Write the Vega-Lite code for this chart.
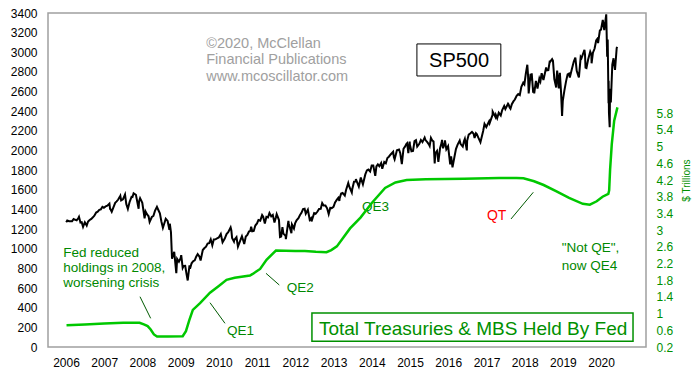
{
  "$schema": "https://vega.github.io/schema/vega-lite/v6.json",
  "width": 598,
  "height": 334,
  "autosize": "none",
  "padding": {"left": 48, "top": 13, "right": 53, "bottom": 33},
  "background": "white",
  "config": {
    "view": {"stroke": "#a0a0a0", "strokeWidth": 1.5},
    "font": "Liberation Sans",
    "axis": {"labelFont": "Liberation Sans", "labelFontSize": 12, "grid": false, "ticks": false, "tickSize": 0, "domain": false, "labelColor": "#000000", "titleFont": "Liberation Sans"}
  },
  "datasets": {
    "sp": [
      {"date":"2006-01-03","value":1269},{"date":"2006-01-13","value":1287},{"date":"2006-01-31","value":1280},
      {"date":"2006-02-15","value":1280},{"date":"2006-02-28","value":1281},{"date":"2006-03-15","value":1303},{"date":"2006-03-31","value":1295},
      {"date":"2006-04-13","value":1289},{"date":"2006-04-28","value":1311},{"date":"2006-05-05","value":1325},{"date":"2006-05-19","value":1267},{"date":"2006-05-31","value":1270},
      {"date":"2006-06-13","value":1223},{"date":"2006-06-30","value":1270},{"date":"2006-07-18","value":1236},{"date":"2006-07-31","value":1277},
      {"date":"2006-08-15","value":1293},{"date":"2006-08-31","value":1304},{"date":"2006-09-15","value":1320},{"date":"2006-09-29","value":1336},
      {"date":"2006-10-16","value":1369},{"date":"2006-10-31","value":1378},{"date":"2006-11-15","value":1396},{"date":"2006-11-30","value":1401},
      {"date":"2006-12-15","value":1427},{"date":"2006-12-29","value":1418},
      {"date":"2007-01-15","value":1431},{"date":"2007-01-31","value":1438},{"date":"2007-02-20","value":1459},{"date":"2007-02-27","value":1399},{"date":"2007-02-28","value":1407},
      {"date":"2007-03-14","value":1377},{"date":"2007-03-30","value":1421},{"date":"2007-04-16","value":1468},{"date":"2007-04-30","value":1482},
      {"date":"2007-05-15","value":1501},{"date":"2007-05-31","value":1531},{"date":"2007-06-04","value":1539},{"date":"2007-06-12","value":1493},{"date":"2007-06-29","value":1503},
      {"date":"2007-07-19","value":1553},{"date":"2007-07-31","value":1455},{"date":"2007-08-15","value":1406},{"date":"2007-08-31","value":1474},
      {"date":"2007-09-19","value":1529},{"date":"2007-09-28","value":1527},{"date":"2007-10-09","value":1565},{"date":"2007-10-31","value":1549},
      {"date":"2007-11-26","value":1407},{"date":"2007-11-30","value":1481},{"date":"2007-12-10","value":1515},{"date":"2007-12-31","value":1468},
      {"date":"2008-01-22","value":1310},{"date":"2008-01-31","value":1379},{"date":"2008-02-15","value":1349},{"date":"2008-02-29","value":1331},
      {"date":"2008-03-10","value":1273},{"date":"2008-03-31","value":1323},{"date":"2008-04-15","value":1334},{"date":"2008-04-30","value":1386},
      {"date":"2008-05-19","value":1426},{"date":"2008-05-30","value":1400},{"date":"2008-06-16","value":1360},{"date":"2008-06-30","value":1280},
      {"date":"2008-07-15","value":1214},{"date":"2008-07-31","value":1267},{"date":"2008-08-11","value":1305},{"date":"2008-08-29","value":1283},
      {"date":"2008-09-15","value":1193},{"date":"2008-09-19","value":1255},{"date":"2008-09-30","value":1166},{"date":"2008-10-10","value":899},{"date":"2008-10-31","value":969},
      {"date":"2008-11-20","value":752},{"date":"2008-11-28","value":896},{"date":"2008-12-15","value":868},{"date":"2008-12-31","value":903},
      {"date":"2009-01-06","value":935},{"date":"2009-01-20","value":805},{"date":"2009-01-30","value":826},{"date":"2009-02-13","value":827},{"date":"2009-02-27","value":735},
      {"date":"2009-03-09","value":677},{"date":"2009-03-26","value":832},{"date":"2009-03-31","value":798},{"date":"2009-04-15","value":852},{"date":"2009-04-30","value":873},
      {"date":"2009-05-15","value":883},{"date":"2009-05-29","value":919},{"date":"2009-06-12","value":946},{"date":"2009-06-30","value":919},
      {"date":"2009-07-10","value":880},{"date":"2009-07-31","value":987},{"date":"2009-08-14","value":1005},{"date":"2009-08-31","value":1021},
      {"date":"2009-09-15","value":1052},{"date":"2009-09-30","value":1057},{"date":"2009-10-15","value":1096},{"date":"2009-10-30","value":1036},
      {"date":"2009-11-13","value":1094},{"date":"2009-11-30","value":1096},{"date":"2009-12-15","value":1107},{"date":"2009-12-31","value":1115},
      {"date":"2010-01-19","value":1150},{"date":"2010-02-05","value":1066},{"date":"2010-02-26","value":1104},{"date":"2010-03-15","value":1150},{"date":"2010-03-31","value":1169},
      {"date":"2010-04-23","value":1217},{"date":"2010-04-30","value":1187},{"date":"2010-05-07","value":1111},{"date":"2010-05-25","value":1074},{"date":"2010-05-28","value":1089},
      {"date":"2010-06-18","value":1117},{"date":"2010-07-02","value":1022},{"date":"2010-07-30","value":1101},{"date":"2010-08-09","value":1127},{"date":"2010-08-27","value":1064},{"date":"2010-08-31","value":1049},
      {"date":"2010-09-15","value":1125},{"date":"2010-09-30","value":1141},{"date":"2010-10-15","value":1176},{"date":"2010-10-29","value":1183},
      {"date":"2010-11-05","value":1225},{"date":"2010-11-16","value":1178},{"date":"2010-11-30","value":1181},{"date":"2010-12-15","value":1236},{"date":"2010-12-31","value":1258},
      {"date":"2011-01-14","value":1293},{"date":"2011-01-31","value":1286},{"date":"2011-02-18","value":1343},{"date":"2011-02-28","value":1327},
      {"date":"2011-03-16","value":1257},{"date":"2011-03-31","value":1326},{"date":"2011-04-15","value":1320},{"date":"2011-04-29","value":1364},
      {"date":"2011-05-16","value":1329},{"date":"2011-05-31","value":1345},{"date":"2011-06-16","value":1268},{"date":"2011-06-30","value":1321},
      {"date":"2011-07-07","value":1353},{"date":"2011-07-29","value":1292},{"date":"2011-08-08","value":1119},{"date":"2011-08-19","value":1124},{"date":"2011-08-31","value":1219},
      {"date":"2011-09-09","value":1154},{"date":"2011-09-30","value":1131},{"date":"2011-10-03","value":1099},{"date":"2011-10-27","value":1285},{"date":"2011-10-31","value":1253},
      {"date":"2011-11-25","value":1159},{"date":"2011-11-30","value":1247},{"date":"2011-12-19","value":1206},{"date":"2011-12-30","value":1258},
      {"date":"2012-01-13","value":1289},{"date":"2012-01-31","value":1312},{"date":"2012-02-15","value":1344},{"date":"2012-02-29","value":1366},
      {"date":"2012-03-15","value":1403},{"date":"2012-03-30","value":1408},{"date":"2012-04-10","value":1358},{"date":"2012-04-30","value":1398},
      {"date":"2012-05-18","value":1295},{"date":"2012-05-31","value":1310},{"date":"2012-06-04","value":1278},{"date":"2012-06-29","value":1362},
      {"date":"2012-07-13","value":1356},{"date":"2012-07-31","value":1379},{"date":"2012-08-15","value":1405},{"date":"2012-08-31","value":1407},
      {"date":"2012-09-14","value":1465},{"date":"2012-09-28","value":1441},{"date":"2012-10-15","value":1441},{"date":"2012-10-31","value":1412},
      {"date":"2012-11-15","value":1353},{"date":"2012-11-30","value":1416},{"date":"2012-12-14","value":1414},{"date":"2012-12-31","value":1426},
      {"date":"2013-01-15","value":1472},{"date":"2013-01-31","value":1498},{"date":"2013-02-15","value":1519},{"date":"2013-02-25","value":1488},{"date":"2013-02-28","value":1515},
      {"date":"2013-03-14","value":1563},{"date":"2013-03-28","value":1569},{"date":"2013-04-18","value":1541},{"date":"2013-04-30","value":1598},
      {"date":"2013-05-21","value":1669},{"date":"2013-05-31","value":1631},{"date":"2013-06-24","value":1573},{"date":"2013-06-28","value":1606},
      {"date":"2013-07-15","value":1683},{"date":"2013-07-31","value":1686},{"date":"2013-08-02","value":1710},{"date":"2013-08-30","value":1633},
      {"date":"2013-09-18","value":1726},{"date":"2013-09-30","value":1682},{"date":"2013-10-08","value":1656},{"date":"2013-10-31","value":1757},
      {"date":"2013-11-15","value":1798},{"date":"2013-11-29","value":1806},{"date":"2013-12-16","value":1786},{"date":"2013-12-31","value":1848},
      {"date":"2014-01-15","value":1848},{"date":"2014-02-03","value":1742},{"date":"2014-02-14","value":1838},{"date":"2014-02-28","value":1859},
      {"date":"2014-03-14","value":1841},{"date":"2014-03-31","value":1872},{"date":"2014-04-11","value":1815},{"date":"2014-04-30","value":1884},
      {"date":"2014-05-15","value":1870},{"date":"2014-05-30","value":1924},{"date":"2014-06-13","value":1937},{"date":"2014-06-30","value":1960},
      {"date":"2014-07-24","value":1988},{"date":"2014-07-31","value":1931},{"date":"2014-08-07","value":1910},{"date":"2014-08-29","value":2003},
      {"date":"2014-09-18","value":2011},{"date":"2014-09-30","value":1972},{"date":"2014-10-15","value":1862},{"date":"2014-10-31","value":2018},
      {"date":"2014-11-14","value":2039},{"date":"2014-11-28","value":2068},{"date":"2014-12-05","value":2075},{"date":"2014-12-16","value":1973},{"date":"2014-12-29","value":2091},{"date":"2014-12-31","value":2059},
      {"date":"2015-01-15","value":1992},{"date":"2015-01-30","value":1995},{"date":"2015-02-13","value":2096},{"date":"2015-02-27","value":2105},
      {"date":"2015-03-11","value":2040},{"date":"2015-03-31","value":2068},{"date":"2015-04-15","value":2107},{"date":"2015-04-30","value":2086},
      {"date":"2015-05-21","value":2131},{"date":"2015-05-29","value":2107},{"date":"2015-06-15","value":2085},{"date":"2015-06-30","value":2063},
      {"date":"2015-07-08","value":2046},{"date":"2015-07-20","value":2128},{"date":"2015-07-31","value":2104},{"date":"2015-08-14","value":2092},
      {"date":"2015-08-25","value":1868},{"date":"2015-08-31","value":1972},{"date":"2015-09-16","value":1996},{"date":"2015-09-29","value":1884},
      {"date":"2015-10-15","value":2023},{"date":"2015-10-30","value":2079},{"date":"2015-11-03","value":2109},{"date":"2015-11-13","value":2023},{"date":"2015-11-30","value":2080},
      {"date":"2015-12-01","value":2103},{"date":"2015-12-14","value":2012},{"date":"2015-12-31","value":2044},
      {"date":"2016-01-20","value":1859},{"date":"2016-01-29","value":1940},{"date":"2016-02-11","value":1829},{"date":"2016-02-29","value":1932},
      {"date":"2016-03-15","value":2015},{"date":"2016-03-31","value":2060},{"date":"2016-04-20","value":2102},{"date":"2016-04-29","value":2065},
      {"date":"2016-05-19","value":2040},{"date":"2016-05-31","value":2097},{"date":"2016-06-08","value":2119},{"date":"2016-06-27","value":2001},{"date":"2016-06-30","value":2099},
      {"date":"2016-07-15","value":2162},{"date":"2016-07-29","value":2174},{"date":"2016-08-15","value":2190},{"date":"2016-08-31","value":2171},
      {"date":"2016-09-09","value":2128},{"date":"2016-09-22","value":2177},{"date":"2016-09-30","value":2168},{"date":"2016-10-14","value":2133},
      {"date":"2016-11-04","value":2085},{"date":"2016-11-30","value":2199},{"date":"2016-12-13","value":2271},{"date":"2016-12-30","value":2239},
      {"date":"2017-01-26","value":2298},{"date":"2017-01-31","value":2279},{"date":"2017-02-28","value":2364},{"date":"2017-03-01","value":2396},
      {"date":"2017-03-27","value":2342},{"date":"2017-03-31","value":2363},{"date":"2017-04-13","value":2329},{"date":"2017-04-28","value":2384},
      {"date":"2017-05-17","value":2357},{"date":"2017-05-31","value":2412},{"date":"2017-06-19","value":2453},{"date":"2017-06-30","value":2423},
      {"date":"2017-07-26","value":2477},{"date":"2017-07-31","value":2470},{"date":"2017-08-10","value":2438},{"date":"2017-08-18","value":2426},{"date":"2017-08-31","value":2472},
      {"date":"2017-09-15","value":2500},{"date":"2017-09-29","value":2519},{"date":"2017-10-16","value":2557},{"date":"2017-10-31","value":2575},
      {"date":"2017-11-15","value":2564},{"date":"2017-11-30","value":2648},{"date":"2017-12-18","value":2690},{"date":"2017-12-29","value":2674},
      {"date":"2018-01-12","value":2786},{"date":"2018-01-26","value":2873},{"date":"2018-02-02","value":2762},{"date":"2018-02-08","value":2581},{"date":"2018-02-26","value":2780},{"date":"2018-02-28","value":2714},
      {"date":"2018-03-09","value":2786},{"date":"2018-03-23","value":2588},{"date":"2018-03-29","value":2641},{"date":"2018-04-02","value":2582},{"date":"2018-04-18","value":2708},{"date":"2018-04-30","value":2648},
      {"date":"2018-05-03","value":2630},{"date":"2018-05-21","value":2733},{"date":"2018-05-31","value":2705},{"date":"2018-06-12","value":2787},{"date":"2018-06-29","value":2718},
      {"date":"2018-07-25","value":2846},{"date":"2018-07-31","value":2816},{"date":"2018-08-15","value":2818},{"date":"2018-08-29","value":2914},{"date":"2018-08-31","value":2902},
      {"date":"2018-09-20","value":2931},{"date":"2018-09-28","value":2914},{"date":"2018-10-11","value":2728},{"date":"2018-10-29","value":2641},{"date":"2018-10-31","value":2712},
      {"date":"2018-11-07","value":2814},{"date":"2018-11-23","value":2633},{"date":"2018-11-30","value":2760},{"date":"2018-12-03","value":2790},{"date":"2018-12-14","value":2600},{"date":"2018-12-24","value":2351},{"date":"2018-12-31","value":2507},
      {"date":"2019-01-15","value":2610},{"date":"2019-01-31","value":2704},{"date":"2019-02-15","value":2776},{"date":"2019-02-28","value":2784},
      {"date":"2019-03-08","value":2743},{"date":"2019-03-29","value":2834},{"date":"2019-04-15","value":2906},{"date":"2019-04-30","value":2946},
      {"date":"2019-05-13","value":2812},{"date":"2019-05-31","value":2752},{"date":"2019-06-03","value":2744},{"date":"2019-06-20","value":2954},{"date":"2019-06-28","value":2942},
      {"date":"2019-07-26","value":3026},{"date":"2019-07-31","value":2980},{"date":"2019-08-05","value":2844},{"date":"2019-08-14","value":2840},{"date":"2019-08-30","value":2926},
      {"date":"2019-09-19","value":3006},{"date":"2019-09-30","value":2977},{"date":"2019-10-02","value":2888},{"date":"2019-10-15","value":2996},{"date":"2019-10-31","value":3038},
      {"date":"2019-11-15","value":3120},{"date":"2019-11-29","value":3141},{"date":"2019-12-03","value":3093},{"date":"2019-12-20","value":3221},{"date":"2019-12-31","value":3231},
      {"date":"2020-01-17","value":3330},{"date":"2020-01-31","value":3226},{"date":"2020-02-19","value":3386},{"date":"2020-02-28","value":2954},
      {"date":"2020-03-04","value":3130},{"date":"2020-03-12","value":2481},{"date":"2020-03-13","value":2711},{"date":"2020-03-16","value":2386},{"date":"2020-03-23","value":2237},
      {"date":"2020-03-26","value":2630},{"date":"2020-03-31","value":2585},{"date":"2020-04-03","value":2489},{"date":"2020-04-17","value":2875},{"date":"2020-04-29","value":2940},{"date":"2020-04-30","value":2912},
      {"date":"2020-05-13","value":2820},{"date":"2020-05-29","value":3044},{"date":"2020-06-03","value":3055}
    ],
    "fed": [
      {"date":"2006-01-06","value":0.72},{"date":"2006-07-01","value":0.74},{"date":"2007-01-01","value":0.76},{"date":"2007-07-01","value":0.78},
      {"date":"2007-12-05","value":0.78},{"date":"2008-01-15","value":0.74},{"date":"2008-02-20","value":0.70},{"date":"2008-03-20","value":0.62},
      {"date":"2008-04-20","value":0.50},{"date":"2008-05-20","value":0.45},{"date":"2008-09-01","value":0.45},{"date":"2009-01-20","value":0.46},
      {"date":"2009-02-20","value":0.58},{"date":"2009-03-25","value":0.85},{"date":"2009-04-27","value":1.09},{"date":"2009-07-05","value":1.25},
      {"date":"2009-10-08","value":1.50},{"date":"2009-12-25","value":1.65},{"date":"2010-03-15","value":1.81},{"date":"2010-06-01","value":1.86},
      {"date":"2010-10-25","value":1.91},{"date":"2010-11-20","value":1.95},{"date":"2011-01-30","value":2.07},{"date":"2011-04-01","value":2.29},
      {"date":"2011-06-30","value":2.51},{"date":"2011-12-31","value":2.50},{"date":"2012-04-01","value":2.50},{"date":"2012-07-15","value":2.48},
      {"date":"2012-10-25","value":2.47},{"date":"2012-12-10","value":2.52},{"date":"2013-02-01","value":2.61},{"date":"2013-06-07","value":3.04},
      {"date":"2013-09-15","value":3.30},{"date":"2014-01-01","value":3.65},{"date":"2014-05-08","value":4.01},{"date":"2014-08-15","value":4.14},
      {"date":"2014-11-30","value":4.20},{"date":"2015-06-01","value":4.22},{"date":"2016-06-01","value":4.23},{"date":"2017-05-01","value":4.25},
      {"date":"2017-10-15","value":4.25},{"date":"2017-12-20","value":4.24},{"date":"2018-04-01","value":4.17},{"date":"2018-07-01","value":4.08},
      {"date":"2018-11-01","value":3.93},{"date":"2019-03-01","value":3.77},{"date":"2019-07-10","value":3.63},{"date":"2019-09-15","value":3.61},
      {"date":"2019-11-20","value":3.69},{"date":"2020-01-15","value":3.80},{"date":"2020-03-10","value":3.87},{"date":"2020-03-18","value":3.95},
      {"date":"2020-03-27","value":4.45},{"date":"2020-04-12","value":5.06},{"date":"2020-05-05","value":5.62},{"date":"2020-06-05","value":5.94}
    ],
    "copyright": [
      {"date":"2009-09-02","value":3044,"text":"©2020, McClellan"},
      {"date":"2009-09-02","value":2876,"text":"Financial Publications"},
      {"date":"2009-09-02","value":2708,"text":"www.mcoscillator.com"}
    ],
    "greenNotes": [
      {"date":"2005-12-06","value":916,"text":"Fed reduced"},
      {"date":"2005-12-06","value":763,"text":"holdings in 2008,"},
      {"date":"2005-12-06","value":611,"text":"worsening crisis"},
      {"date":"2010-03-19","value":122,"text":"QE1"},
      {"date":"2011-10-11","value":563,"text":"QE2"},
      {"date":"2013-09-29","value":1384,"text":"QE3"},
      {"date":"2018-12-20","value":970,"text":"\"Not QE\","},
      {"date":"2018-12-20","value":784,"text":"now QE4"}
    ],
    "redNotes": [
      {"date":"2017-01-05","value":1293,"text":"QT"}
    ],
    "spLabel": [{"date":"2016-04-14","value":2855,"text":"SP500"}],
    "spBox": [{"date":"2015-03-08","date2":"2017-05-18","value":3085,"value2":2759}],
    "fedLabel": [{"date":"2016-08-26","value":122,"text":"Total Treasuries & MBS Held By Fed"}],
    "fedBox": [{"date":"2012-06-08","date2":"2020-11-01","value":346,"value2":58}],
    "connectors": [
      {"date":"2007-12-09","value":512,"date2":"2008-03-20","value2":292},
      {"date":"2009-10-08","value":451,"date2":"2010-02-28","value2":241},
      {"date":"2011-03-27","value":750,"date2":"2011-08-01","value2":631},
      {"date":"2017-08-23","value":1303,"date2":"2018-03-24","value2":1575}
    ]
  },
  "encoding": {
    "x": {
      "field": "date",
      "type": "temporal",
      "scale": {"type": "utc", "nice": false, "domain": [{"year":2005,"month":7,"date":13,"utc":true},{"year":2021,"month":3,"date":5,"utc":true}]},
      "axis": {
        "title": null,
        "format": "%Y",
        "labelFlush": false,
        "labelPadding": 10,
        "labelOverlap": false,
        "values": [
          {"year":2006,"month":1,"date":1,"utc":true},{"year":2007,"month":1,"date":1,"utc":true},{"year":2008,"month":1,"date":1,"utc":true},
          {"year":2009,"month":1,"date":1,"utc":true},{"year":2010,"month":1,"date":1,"utc":true},{"year":2011,"month":1,"date":1,"utc":true},
          {"year":2012,"month":1,"date":1,"utc":true},{"year":2013,"month":1,"date":1,"utc":true},{"year":2014,"month":1,"date":1,"utc":true},
          {"year":2015,"month":1,"date":1,"utc":true},{"year":2016,"month":1,"date":1,"utc":true},{"year":2017,"month":1,"date":1,"utc":true},
          {"year":2018,"month":1,"date":1,"utc":true},{"year":2019,"month":1,"date":1,"utc":true},{"year":2020,"month":1,"date":1,"utc":true}
        ]
      }
    }
  },
  "layer": [
    {
      "encoding": {
        "y": {
          "field": "value",
          "type": "quantitative",
          "scale": {"domain": [0, 3400], "nice": false, "zero": false},
          "axis": {"title": null, "orient": "left", "labelPadding": 11, "format": "d", "values": [0,200,400,600,800,1000,1200,1400,1600,1800,2000,2200,2400,2600,2800,3000,3200,3400]}
        }
      },
      "layer": [
        {
          "data": {"values": [{}]},
          "mark": {"type": "rect", "fillOpacity": 0, "stroke": "#000000", "strokeWidth": 1.5},
          "encoding": {
            "x": {"datum": {"year":2004,"month":4,"date":15,"utc":true}, "type": "temporal"},
            "x2": {"datum": {"year":2022,"month":7,"date":20,"utc":true}},
            "y": {"datum": 3527, "type": "quantitative"},
            "y2": {"datum": -331}
          }
        },
        {
          "data": {"name": "sp"},
          "mark": {"type": "line", "color": "#000000", "strokeWidth": 2}
        },
        {
          "data": {"name": "connectors"},
          "mark": {"type": "rule", "color": "#005a00", "strokeWidth": 1},
          "encoding": {"x2": {"field": "date2"}, "y2": {"field": "value2"}}
        },
        {
          "data": {"name": "spBox"},
          "mark": {"type": "rect", "fillOpacity": 0, "stroke": "#000000", "strokeWidth": 1},
          "encoding": {"x2": {"field": "date2"}, "y2": {"field": "value2"}}
        },
        {
          "data": {"name": "fedBox"},
          "mark": {"type": "rect", "fillOpacity": 0, "stroke": "#009000", "strokeWidth": 1.5},
          "encoding": {"x2": {"field": "date2"}, "y2": {"field": "value2"}}
        },
        {
          "data": {"name": "copyright"},
          "mark": {"type": "text", "align": "left", "baseline": "alphabetic", "font": "Liberation Sans", "fontSize": 14.5, "color": "#a0a0a0"},
          "encoding": {"text": {"field": "text"}}
        },
        {
          "data": {"name": "greenNotes"},
          "mark": {"type": "text", "align": "left", "baseline": "alphabetic", "font": "Liberation Sans", "fontSize": 13.5, "color": "#008800"},
          "encoding": {"text": {"field": "text"}}
        },
        {
          "data": {"name": "redNotes"},
          "mark": {"type": "text", "align": "left", "baseline": "alphabetic", "font": "Liberation Sans", "fontSize": 14, "color": "#ff0000"},
          "encoding": {"text": {"field": "text"}}
        },
        {
          "data": {"name": "spLabel"},
          "mark": {"type": "text", "align": "center", "baseline": "alphabetic", "font": "Liberation Sans", "fontSize": 20, "color": "#000000"},
          "encoding": {"text": {"field": "text"}}
        },
        {
          "data": {"name": "fedLabel"},
          "mark": {"type": "text", "align": "center", "baseline": "alphabetic", "font": "Liberation Sans", "fontSize": 19, "color": "#009000"},
          "encoding": {"text": {"field": "text"}}
        }
      ]
    },
    {
      "data": {"name": "fed"},
      "mark": {"type": "line", "color": "#00c800", "strokeWidth": 2.5},
      "encoding": {
        "y": {
          "field": "value",
          "type": "quantitative",
          "scale": {"domain": [0.2, 8.2], "nice": false, "zero": false},
          "axis": {
            "orient": "right",
            "labelPadding": 10,
            "labelColor": "#009000",
            "format": "~g",
            "values": [0.2,0.6,1,1.4,1.8,2.2,2.6,3,3.4,3.8,4.2,4.6,5,5.4,5.8],
            "title": "$ Trillions",
            "titleColor": "#009000",
            "titleFontSize": 10,
            "titleFontWeight": "normal",
            "titleAngle": 270,
            "titleBaseline": "bottom",
            "titlePadding": 19
          }
        }
      }
    }
  ],
  "resolve": {"scale": {"y": "independent"}, "axis": {"y": "independent"}}
}
